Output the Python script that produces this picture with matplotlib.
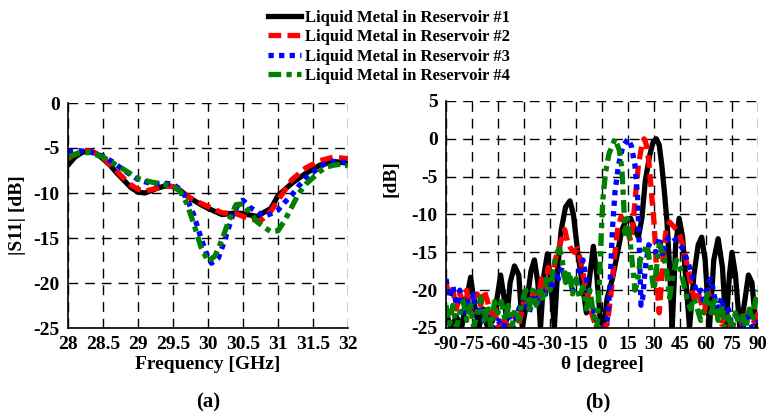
import numpy as np
import matplotlib
matplotlib.use("Agg")
import matplotlib.pyplot as plt

plt.rcParams["font.family"] = ["Liberation Serif", "DejaVu Serif"]
plt.rcParams["font.weight"] = "bold"
plt.rcParams["axes.unicode_minus"] = False

# ---------- (a) |S11| vs frequency ----------
f1 = [28.0, 28.1, 28.2, 28.3, 28.4, 28.5, 28.6, 28.7, 28.8, 28.9, 29.0, 29.1, 29.2, 29.3,
      29.4, 29.5, 29.6, 29.75, 29.9, 30.0, 30.2, 30.4, 30.5, 30.7, 30.9, 31.0, 31.2, 31.4,
      31.6, 31.8, 32.0]
s1 = [-6.9, -6.0, -5.5, -5.3, -5.6, -6.2, -6.9, -7.8, -8.6, -9.4, -9.9, -10.0, -9.7, -9.4,
      -9.2, -9.3, -9.7, -10.6, -11.3, -11.7, -12.4, -12.2, -12.3, -12.6, -11.7, -10.3, -8.9,
      -7.8, -6.9, -6.5, -6.7]

f2 = [28.0, 28.1, 28.2, 28.3, 28.4, 28.5, 28.6, 28.7, 28.8, 28.9, 29.0, 29.1, 29.2, 29.3,
      29.4, 29.5, 29.6, 29.8, 30.0, 30.2, 30.4, 30.6, 30.75, 30.9, 31.0, 31.2, 31.4, 31.6,
      31.8, 32.0]
s2 = [-6.2, -5.7, -5.4, -5.3, -5.6, -6.1, -6.8, -7.6, -8.4, -9.1, -9.6, -9.8, -9.6, -9.4,
      -9.2, -9.3, -9.8, -10.8, -11.5, -12.2, -12.3, -12.9, -13.1, -12.0, -10.8, -8.5, -7.2,
      -6.4, -6.0, -6.2]

f3 = [28.0, 28.15, 28.3, 28.5, 28.65, 28.8, 29.0, 29.2, 29.35, 29.5, 29.6, 29.7, 29.8,
      29.9, 30.0, 30.05, 30.15, 30.25, 30.35, 30.45, 30.5, 30.6, 30.7, 30.8, 30.9, 31.0,
      31.1, 31.2, 31.3, 31.4, 31.5, 31.6, 31.7, 31.8, 32.0]
s3 = [-5.4, -5.3, -5.4, -5.9, -6.6, -7.5, -8.5, -9.0, -8.9, -9.0, -9.6, -10.6, -12.5,
      -15.0, -17.2, -17.8, -17.2, -15.0, -12.5, -11.0, -10.8, -11.6, -12.1, -12.6, -12.3,
      -11.9, -11.0, -10.2, -9.2, -8.3, -7.7, -7.1, -6.6, -6.5, -6.6]

f4 = [28.0, 28.15, 28.3, 28.5, 28.65, 28.8, 29.0, 29.2, 29.35, 29.5, 29.6, 29.7, 29.8,
      29.9, 30.0, 30.1, 30.2, 30.3, 30.4, 30.5, 30.6, 30.7, 30.8, 30.9, 31.0, 31.1, 31.2,
      31.3, 31.4, 31.5, 31.6, 31.7, 31.8, 31.9, 32.0]
s4 = [-6.0, -5.6, -5.5, -6.0, -6.7, -7.4, -8.4, -8.8, -9.0, -9.2, -9.8, -11.2, -13.5,
      -16.0, -17.6, -17.0, -15.2, -13.0, -11.3, -11.2, -12.2, -13.2, -13.8, -14.3, -14.2,
      -13.0, -11.5, -10.0, -9.0, -8.3, -7.6, -7.1, -6.9, -6.8, -7.0]

# ---------- (b) pattern vs theta ----------
t1 = [-90, -87, -84, -81, -78, -75.8, -73.5, -71, -68.5, -66, -63, -60.5, -58.5, -56.5, -55,
      -53, -50.5, -48, -46, -43, -41, -39, -37, -35.5, -33.5, -31.5, -29.5, -27.5, -25.5,
      -23.5, -21, -18.5, -16.5, -14, -11.5, -9, -7.5, -5, -3, -1, 1, 3, 6, 9, 11.5, 14, 16.5,
      19, 21, 23, 25, 27.5, 29.5, 31.3, 33, 34.5, 36, 37.5, 39, 40.5, 42.5, 44.5, 46.5, 48.5,
      50.5, 53, 55.5, 57.5, 59.5, 62, 64.5, 67, 69.5, 71.5, 73.5, 75, 77, 79.5, 82, 84.5,
      86.5, 88.5, 90]
p1 = [-23, -25, -23.5, -25, -21, -18.3, -22, -25, -22.5, -25, -24, -21, -18, -21, -24,
      -19, -16.8, -18, -25, -21, -17.5, -16, -19, -25, -18, -15.2, -19, -25, -17,
      -12, -9, -8.2, -10, -15, -19, -23, -19, -14.2, -18, -24, -25, -21, -18.5, -15, -12,
      -10.7, -10.5, -12, -13, -10.5, -5.5, -2.2, -0.4, 0, -0.8, -3.5, -7, -11, -17, -25, -14,
      -10.5, -13, -19, -25, -18, -14, -13, -16, -25, -16, -13.2, -17, -25, -18, -15, -18, -25,
      -22, -18, -19, -24, -25]

t2 = [-90, -88, -86, -84, -82, -80, -78, -76, -74, -72, -70, -68, -66, -64, -62, -60, -57,
      -54, -51, -48, -45, -42, -39, -37, -35, -33, -31, -29, -27, -25, -23, -21.5, -20, -18,
      -16, -14, -12, -10, -8, -6, -4, -2, 1, 3, 5, 7, 9, 11, 13, 15, 16.5, 18, 19.5, 21, 23,
      24.3, 25.5, 27, 28.5, 30, 31, 32, 33, 34, 35.5, 37, 39, 41, 43, 45, 47, 49, 51, 53, 55,
      57, 59, 61, 63, 65, 67, 69, 72, 75, 78, 81, 84, 87, 90]
p2 = [-19, -21, -20, -22.5, -20.5, -21.5, -20, -23, -21, -20.5, -22, -20, -21.5, -24,
      -22.5, -25, -23.5, -25, -23, -24.5, -21.5, -22.5, -20, -21.5, -18.5, -20, -17, -19,
      -16, -14.5, -13, -12, -13.5, -14.5, -15, -14.5, -16.5, -19, -21, -23, -24.5, -25, -25,
      -24.5, -21, -16, -12, -10.3, -10.8, -12.5, -13.5, -11, -7, -3.5, -0.8, 0, -0.7, -3, -7,
      -11, -15, -20, -23, -20, -15, -12, -11, -11.5, -12, -12.8, -14.5, -16.5, -19, -21, -20,
      -21.5, -23, -20, -21.5, -23, -22, -24.5, -23, -25, -23.5, -24.5, -23, -24.5, -23]

t3 = [-90, -88, -86, -84, -82, -80, -78, -76, -74, -72, -70, -68, -66, -63, -60, -57, -54,
      -51, -48, -45, -42, -39, -37, -35, -33, -31, -29, -27, -25, -23, -21, -19, -17, -15,
      -13, -11, -9, -7, -5, -3, -1, 1, 3, 4.5, 6, 7.5, 9.5, 12, 15, 17, 19, 20.5, 21.5, 22.5,
      23.5, 25, 27, 29, 31, 33, 35, 37, 39, 41, 43, 45, 47, 49, 51, 53, 55, 57, 59, 61, 63,
      65, 67, 69, 71, 73, 75, 78, 81, 84, 87, 90]
p3 = [-18.5, -21, -19.5, -22, -20, -23, -21, -22.5, -20.5, -23.5, -22, -24.5, -23, -25,
      -24, -25, -23.5, -25, -22.5, -21, -23, -20.5, -22, -19.5, -21, -18.5, -20, -17.5,
      -18.5, -17, -19, -18, -20, -19.5, -17.5, -16, -18.5, -21, -22.5, -24, -25, -25, -24,
      -20, -12, -7, -3.5, -1, 0, -1, -3.5, -7.5, -14, -22, -21, -17, -14, -14.5, -15, -13,
      -15.5, -13.5, -12.8, -13, -13.5, -14, -14.7, -16, -17.3, -19, -20.5, -20, -22, -19,
      -18.5, -21, -22.5, -21, -23.5, -22.5, -25, -23, -25, -23.5, -25, -24]

t4 = [-90, -88, -86, -84, -82, -80, -78, -76, -74, -72, -70, -68, -66, -64, -62, -60, -58,
      -56, -54, -52, -50, -48, -46, -44, -42, -40, -38, -36, -34, -32, -30, -28, -26, -24.5,
      -23, -21, -19, -17, -15, -13, -11, -9, -7, -5, -3, -1.5, -0.5, 0.5, 2, 4, 7.5, 10, 11.5,
      12.5, 13.3, 14.5, 16, 17.5, 19, 20.5, 22, 24, 26, 28, 30, 31.5, 33, 35, 37, 39, 41, 43,
      45, 47, 49, 51, 53, 55, 57, 59, 61, 63, 65, 67, 69, 71, 73, 75, 77, 79, 81, 83, 85, 87,
      88.5, 90]
p4 = [-22, -24.5, -22, -25, -23, -21.5, -24, -22, -25, -23, -21, -24, -22, -25, -21.5, -23,
      -21.5, -24, -22, -25, -22.5, -24, -21.5, -20, -22.5, -20, -22, -19.5, -21.5, -18.5,
      -20, -17, -15, -14.5, -16, -19, -17.5, -20.5, -18.5, -21, -19.5, -22.5, -20, -23, -25,
      -19, -13, -8, -4.5, -2, 0, -1.5, -4, -8.5, -12.5, -10.5, -13, -16.5, -20, -19, -16,
      -15, -14, -17, -20, -17, -14, -15, -17, -21, -18, -16, -17, -19, -21, -22.5, -21,
      -22.5, -24, -22, -20.5, -23, -21, -24, -22, -25, -23.5, -25, -23, -24.5, -23, -25,
      -22.5, -24, -21.5, -20]

labels = ["Liquid Metal in Reservoir #1", "Liquid Metal in Reservoir #2",
          "Liquid Metal in Reservoir #3", "Liquid Metal in Reservoir #4"]

colors = ["#000000", "#ff0000", "#0000ff", "#008000"]
styles = ["-", (0, (2.4, 1.2)), (0, (1, 1)), (0, (2.4, 1, 1, 1))]
lw = 3.8

fig = plt.figure(figsize=(7.68, 4.19), dpi=100)
ax1 = fig.add_axes([68 / 768, 1 - 328 / 419, 280 / 768, 225 / 419])
ax2 = fig.add_axes([446 / 768, 1 - 328 / 419, 312 / 768, 227 / 419])

for (x, y), c, ls, lab in zip([(f1, s1), (f2, s2), (f3, s3), (f4, s4)], colors, styles, labels):
    ax1.plot(x, y, color=c, linestyle=ls, linewidth=lw, label=lab)
for (x, y), c, ls in zip([(t1, p1), (t2, p2), (t3, p3), (t4, p4)], colors, styles):
    ax2.plot(x, y, color=c, linestyle=ls, linewidth=lw)

ax1.set_xlim(28, 32)
ax1.set_ylim(-25, 0)
ax1.set_xticks(np.arange(28, 32.01, 0.5))
ax1.set_xticklabels(["28", "28.5", "29", "29.5", "30", "30.5", "31", "31.5", "32"])
ax1.set_yticks([0, -5, -10, -15, -20, -25])
ax1.set_xlabel("Frequency [GHz]", fontsize=14, fontweight="bold", labelpad=2)
ax1.set_ylabel("|S11| [dB]", fontsize=14, fontweight="bold")
ax1.yaxis.set_label_coords(-0.15, 0.5)

ax2.set_xlim(-90, 90)
ax2.set_ylim(-25, 5)
ax2.set_xticks(np.arange(-90, 91, 15))
ax2.set_yticks([5, 0, -5, -10, -15, -20, -25])
ax2.set_xlabel("θ [degree]", fontsize=14, fontweight="bold", labelpad=2)
ax2.set_ylabel("[dB]", fontsize=14, fontweight="bold")
ax2.yaxis.set_label_coords(-0.15, 0.66)

for ax in (ax1, ax2):
    ax.grid(True, color="black", linestyle=(0, (7, 5)), linewidth=1.0)
    ax.spines["top"].set_visible(False)
    ax.spines["right"].set_visible(False)
    ax.spines["left"].set_linewidth(1.2)
    ax.spines["bottom"].set_linewidth(1.2)
    ax.tick_params(length=0, labelsize=14, pad=6)
    for t in ax.get_xticklabels() + ax.get_yticklabels():
        t.set_fontweight("bold")
    ax.set_axisbelow(True)
ax2.tick_params(axis="x", labelsize=13.5)

fig.legend(loc="upper left", bbox_to_anchor=(268 / 768, 1 - 10 / 419), frameon=False,
           handlelength=2.0, handletextpad=0.2, labelspacing=0.2,
           borderaxespad=0, borderpad=0, prop={"weight": "bold", "size": 12})

fig.text(208 / 768, 1 - 402 / 419, "(a)", ha="center", va="center", fontsize=15,
         fontweight="bold")
fig.text(598 / 768, 1 - 402 / 419, "(b)", ha="center", va="center", fontsize=15,
         fontweight="bold")

fig.savefig("out.png", dpi=100)
